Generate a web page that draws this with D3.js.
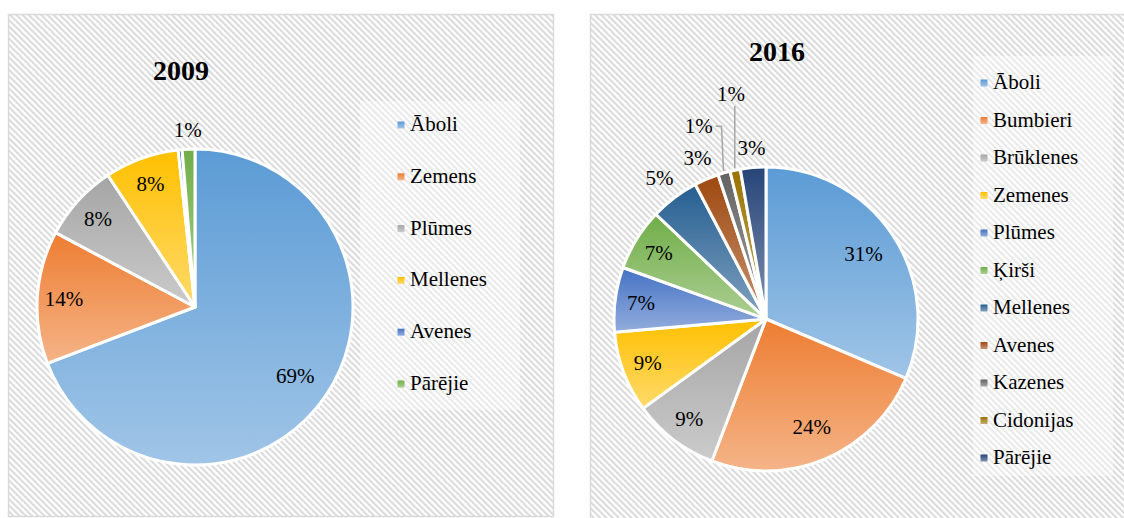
<!DOCTYPE html>
<html>
<head>
<meta charset="utf-8">
<script src="https://cdn.jsdelivr.net/npm/d3@7"></script>
<style>
  html, body { margin: 0; padding: 0; background: #fff; }
  svg { display: block; }
</style>
</head>
<body>
<svg id="chart" width="1124" height="518"></svg>
<script>
// ---------- data ----------
const titles = ["2009", "2016"];

const categories2009 = ["Āboli", "Zemens", "Plūmes", "Mellenes", "Avenes", "Pārējie"];
const values2009 = [69.2, 13.6, 7.9, 7.6, 0.4, 1.3];

const categories2016 = ["Āboli", "Bumbieri", "Brūklenes", "Zemenes", "Plūmes", "Ķirši",
                        "Mellenes", "Avenes", "Kazenes", "Cidonijas", "Pārējie"];
const values2016 = [31.4, 24.4, 9.2, 8.6, 6.9, 6.6, 5.2, 2.6, 1.3, 1.1, 2.7];

// ---------- styles ----------
const palette2009 = ["#5B9BD5", "#ED7D31", "#A5A5A5", "#FFC000", "#4472C4", "#70AD47"];
const palette2016 = ["#5B9BD5", "#ED7D31", "#A5A5A5", "#FFC000", "#4472C4", "#70AD47",
                     "#255E91", "#9E480E", "#636363", "#997300", "#264478"];

const FONT = "'Liberation Serif', 'Times New Roman', Times, 'DejaVu Serif', serif";

const svg = d3.select("#chart").attr("font-family", FONT);
const defs = svg.append("defs");

// hatch background pattern
const P = 4.4;
const pat = defs.append("pattern")
  .attr("id", "hatch").attr("patternUnits", "userSpaceOnUse")
  .attr("width", P).attr("height", P)
  .attr("patternTransform", "rotate(-45)");
pat.append("rect").attr("width", P).attr("height", P).attr("fill", "#ffffff");
pat.append("rect").attr("width", 2.0).attr("height", P).attr("fill", "#dadada");

function gradientFor(id, base) {
  const g = defs.append("linearGradient").attr("id", id)
    .attr("x1", 0).attr("y1", 0).attr("x2", 0).attr("y2", 1);
  g.append("stop").attr("offset", "0%").attr("stop-color", base);
  g.append("stop").attr("offset", "100%").attr("stop-color", d3.interpolateRgb(base, "#ffffff")(0.42));
  return `url(#${id})`;
}

const charts = [
  { key: "a", title: titles[0], cats: categories2009, vals: values2009, pal: palette2009,
    frame: [8.5, 14.5, 545, 502], titleX: 181, titleY: 80,
    cx: 195, cy: 307, r: 158,
    legendBox: [360, 101, 160, 309], legendX: 401, legendTop: 124, legendBottom: 383 },
  { key: "b", title: titles[1], cats: categories2016, vals: values2016, pal: palette2016,
    frame: [590.5, 14.5, 545, 512], titleX: 777, titleY: 61,
    cx: 766, cy: 319, r: 152,
    legendBox: [973, 56, 140, 420], legendX: 984, legendTop: 82, legendBottom: 457 }
];

const fontSize = 21;

charts.forEach(c => {
  const g = svg.append("g");
  const [fx, fy, fw, fh] = c.frame;
  g.append("rect").attr("x", fx).attr("y", fy).attr("width", fw).attr("height", fh)
    .attr("fill", "url(#hatch)").attr("stroke", "#d9d9d9").attr("stroke-width", 1.5);

  const [lx, ly, lw, lh] = c.legendBox;
  g.append("rect").attr("x", lx).attr("y", ly).attr("width", lw).attr("height", lh)
    .attr("fill", "#ffffff").attr("fill-opacity", 0.4);

  g.append("text").attr("x", c.titleX).attr("y", c.titleY)
    .attr("text-anchor", "middle").attr("font-weight", "bold")
    .attr("font-family", FONT).attr("fill", "#000")
    .attr("font-size", 28).text(c.title);

  const fills = c.pal.map((col, i) => gradientFor(`g${c.key}${i}`, col));
  const data = c.cats.map((name, i) => ({ name, value: c.vals[i], i }));
  const total = d3.sum(data, d => d.value);

  const pie = d3.pie().value(d => d.value).sort(null);
  const arcs = pie(data);
  const arc = d3.arc().innerRadius(0).outerRadius(c.r);

  const pg = g.append("g").attr("transform", `translate(${c.cx},${c.cy})`);
  pg.selectAll("path").data(arcs).join("path")
    .attr("d", arc)
    .attr("fill", d => fills[d.data.i])
    .attr("stroke", "#ffffff").attr("stroke-width", 3).attr("stroke-linejoin", "round");

  // labels
  const lg = g.append("g");
  const placed = [];
  const leaders = [];
  const padX = 8, padY = 10;
  arcs.forEach(d => {
    const pct = d.data.value / total * 100;
    const rounded = Math.round(pct);
    if (rounded === 0) return;
    const mid = (d.startAngle + d.endAngle) / 2;
    const s = Math.sin(mid), co = Math.cos(mid);
    const t = lg.append("text").attr("font-size", fontSize)
      .attr("font-family", FONT).attr("fill", "#000")
      .attr("text-anchor", "middle").attr("dominant-baseline", "central")
      .text(rounded + "%");
    const w = t.node().getComputedTextLength();
    const h = fontSize;
    let x, y;
    if (pct >= 6) {
      const rf = pct >= 20 ? 0.77 : 0.83;
      x = c.cx + rf * c.r * s; y = c.cy - rf * c.r * co;
    } else {
      const base = c.r + 8 + Math.abs(s) * w / 2 + Math.abs(co) * h / 2;
      const bx = c.cx + base * s, by = c.cy - base * co;
      x = bx; y = by;
      const collides = (px, py) => placed.some(b =>
        Math.abs(b.x - px) < (b.w + w) / 2 + padX && Math.abs(b.y - py) < (b.h + h) / 2 + padY);
      // crowded labels near the top are pushed up (or up and outward), others radially
      let dx, dy;
      if (co > 0.97) { dx = 0; dy = -1; }
      else if (co > 0.85) { dx = Math.sign(s) * 0.6; dy = -0.8; }
      else { dx = s; dy = -co; }
      let k = 0;
      while (collides(x, y) && k < 200) { x += dx; y += dy; k++; }
      if (Math.hypot(x - bx, y - by) > 4) {
        const Pt = [c.cx + (c.r + 2) * s, c.cy - (c.r + 2) * co];
        const x0 = x - w / 2, x1 = x + w / 2;
        let pts;
        if (Pt[0] >= x0 && Pt[0] <= x1) {
          pts = [[Pt[0], y + h / 2 + 1], Pt];
        } else if (Pt[0] > x1) {
          pts = [[x1 + 3, y], [Math.max(x1 + 3, Math.min(Pt[0] - 2, x1 + 14)), y], Pt];
        } else {
          pts = [[x0 - 3, y], [Math.min(x0 - 3, Math.max(Pt[0] + 2, x0 - 14)), y], Pt];
        }
        leaders.push(pts);
      }
      placed.push({ x, y, w, h });
    }
    t.attr("x", x).attr("y", y);
  });
  lg.selectAll("polyline").data(leaders).join("polyline")
    .attr("points", d => d.map(p => p.join(",")).join(" "))
    .attr("fill", "none").attr("stroke", "#a6a6a6").attr("stroke-width", 1.5);

  // legend
  const ly2 = d3.scalePoint().domain(c.cats).range([c.legendTop, c.legendBottom]);
  const leg = g.append("g");
  const items = leg.selectAll("g").data(data).join("g")
    .attr("transform", d => `translate(${c.legendX},${ly2(d.name)})`);
  items.append("rect").attr("x", -3.5).attr("y", -2.5).attr("width", 7).attr("height", 7)
    .attr("fill", d => fills[d.i]);
  items.append("text").attr("x", 9).attr("y", 0).attr("dominant-baseline", "central")
    .attr("font-family", FONT).attr("fill", "#000")
    .attr("font-size", fontSize).text(d => d.name);
});
</script>
</body>
</html>
